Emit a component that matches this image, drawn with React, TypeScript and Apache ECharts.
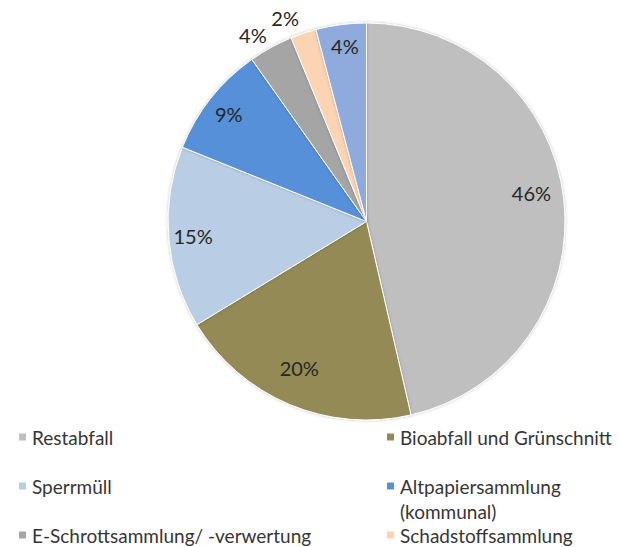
import React, { useEffect, useRef } from "react";
import * as echarts from "echarts";

const categories = [
  "Restabfall",
  "Bioabfall und Grünschnitt",
  "Sperrmüll",
  "Altpapiersammlung (kommunal)",
  "E-Schrottsammlung/ -verwertung",
  "Schadstoffsammlung",
  "Sonstiges",
];
const values = [46.4, 19.9, 14.8, 9.1, 3.6, 2.1, 4.1];
const colors = ["#bfbfbf", "#948a54", "#b9cde5", "#5590d9", "#a5a5a5", "#fbd4b4", "#8faadc"];
const outsideLabels = ["E-Schrottsammlung/ -verwertung", "Schadstoffsammlung"];
const legendItems = [
  "Restabfall",
  "Bioabfall und Grünschnitt",
  "Sperrmüll",
  "Altpapiersammlung (kommunal)",
  "E-Schrottsammlung/ -verwertung",
  "Schadstoffsammlung",
];

const FONT = "Lato, 'Noto Sans', sans-serif";
const CX = 366.5;
const CY = 221.5;
const R = 198.5;

export default function App() {
  const ref = useRef<HTMLDivElement>(null);
  useEffect(() => {
    if (!ref.current) return;
    const chart = echarts.init(ref.current, null, { renderer: "svg" });
    const pct = (p: any) => Math.round(p.percent) + "%";
    const baseData = categories.map((n, i) => ({ name: n, value: values[i], itemStyle: { color: colors[i] } }));
    const innerOffsets: Record<string, number[]> = {
      "Restabfall": [-2, -10],
      "Bioabfall und Grünschnitt": [-2, -8],
      "Sperrmüll": [-6, 1],
      "Altpapiersammlung (kommunal)": [-6, -3],
      "Sonstiges": [0, -9],
    };
    const innerData = categories.map((n, i) => ({
      name: n,
      value: values[i],
      label: { show: !outsideLabels.includes(n), offset: innerOffsets[n] || [0, 0] },
    }));
    const outerOffsets: Record<string, number[]> = {
      "E-Schrottsammlung/ -verwertung": [-7, 7],
      "Schadstoffsammlung": [-11, 6],
    };
    const outerData = categories.map((n, i) => ({
      name: n,
      value: values[i],
      label: { show: outsideLabels.includes(n), offset: outerOffsets[n] || [0, 0] },
    }));
    const legendPos: Record<string, { left: number; center: number }> = {
      "Restabfall": { left: 17, center: 437 },
      "Bioabfall und Grünschnitt": { left: 385, center: 437 },
      "Sperrmüll": { left: 17, center: 486 },
      "Altpapiersammlung (kommunal)": { left: 385, center: 486 },
      "E-Schrottsammlung/ -verwertung": { left: 17, center: 535 },
      "Schadstoffsammlung": { left: 385, center: 535 },
    };
    const legends = legendItems.map((name) => {
      const multi = name === "Altpapiersammlung (kommunal)";
      const p = legendPos[name];
      return {
        data: [name],
        left: p.left,
        top: multi ? p.center - 37.5 : p.center - 12,
        padding: 0,
        itemWidth: 9,
        itemHeight: 9,
        itemGap: 0,
        icon: "rect",
        selectedMode: false,
        formatter: (n: string) => (n === "Altpapiersammlung (kommunal)" ? " \nAltpapiersammlung\n(kommunal)" : n),
        textStyle: {
          fontFamily: FONT,
          fontSize: 19,
          color: "#363636",
          lineHeight: multi ? 25 : 24,
        },
      };
    });
    const labelStyle = {
      position: "inside",
      formatter: pct,
      fontFamily: FONT,
      fontSize: 20,
      color: "#262626",
    };
    chart.setOption({
      animation: false,
      backgroundColor: "#ffffff",
      legend: legends,
      series: [
        {
          type: "pie",
          center: [CX, CY],
          radius: [0, R],
          startAngle: 90,
          clockwise: true,
          data: baseData,
          label: { show: false },
          labelLine: { show: false },
          itemStyle: {
            borderColor: "#ffffff",
            borderWidth: 1,
            shadowBlur: 3,
            shadowColor: "rgba(0,0,0,0.25)",
          },
          emphasis: { disabled: true },
          silent: true,
        },
        {
          type: "pie",
          center: [CX, CY],
          radius: [131.5, R],
          startAngle: 90,
          clockwise: true,
          data: innerData,
          itemStyle: { color: "rgba(0,0,0,0)", borderWidth: 0 },
          label: labelStyle,
          labelLine: { show: false },
          emphasis: { disabled: true },
          silent: true,
          legendHoverLink: false,
        },
        {
          type: "pie",
          center: [CX, CY],
          radius: [R, 238],
          startAngle: 90,
          clockwise: true,
          data: outerData,
          itemStyle: { color: "rgba(0,0,0,0)", borderWidth: 0 },
          label: labelStyle,
          labelLine: { show: false },
          emphasis: { disabled: true },
          silent: true,
          legendHoverLink: false,
        },
      ],
    });
    return () => chart.dispose();
  }, []);
  return <div ref={ref} style={{ position: "fixed", left: 0, top: 0, width: 619, height: 547 }} />;
}
